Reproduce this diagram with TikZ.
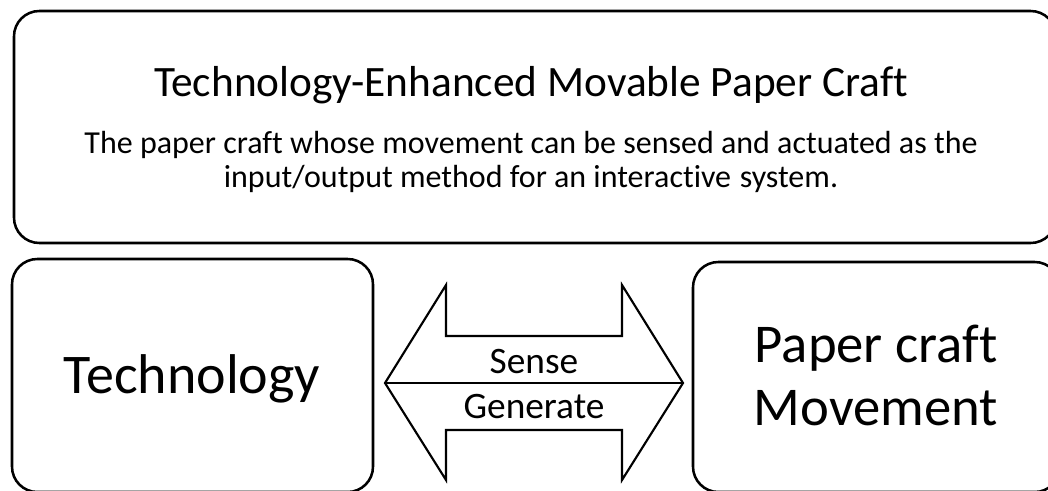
\documentclass[tikz,border=0pt]{standalone}
\usepackage{fontspec}
\setmainfont{Carlito}[Ligatures=NoCommon]
\begin{document}
\begin{tikzpicture}[x=0.75pt,y=-0.75pt,
  box/.style={draw=black,line width=1.9pt,rounded corners=19pt,fill=white,inner sep=0pt},
  arrowshape/.style={draw=black,line width=1.6pt,line join=miter,fill=white},
  txt/.style={inner sep=0pt,anchor=base,text=black}]
\useasboundingbox (0,0) rectangle (1048,490);
\clip (0,0) rectangle (1048,490);

% framing boxes
\node[box,minimum width=781.5pt,minimum height=174pt] (top) at (535,127) {};
\node[box,minimum width=270.75pt,minimum height=174.75pt] (tech) at (192.5,375.5) {};
\node[box,minimum width=275.25pt,minimum height=172.5pt] (craft) at (876.5,377) {};

% heading and description
\node[txt,font=\fontsize{32.5}{38}\selectfont] (title) at (531,96) {Technology-Enhanced Movable Paper Craft};
\node[txt,font=\fontsize{24}{29}\selectfont] (desc1) at (531,153) {The paper craft whose movement can be sensed and actuated as the};
\node[txt,font=\fontsize{24}{29}\selectfont] (desc2) at (531,187) {input/output method for an interactive\hspace{0.27em}system.};

% the two sides
\node[txt,font=\fontsize{42}{48}\selectfont] (techlabel) at (192,393) {Technology};
\node[txt,font=\fontsize{41}{48}\selectfont] (craft1) at (876,362) {Paper craft};
\node[txt,font=\fontsize{41}{48}\selectfont] (craft2) at (876,425) {Movement};

% double block arrow between them
\coordinate (ltip) at (385,383);
\coordinate (rtip) at (683,383);
\draw[arrowshape] (ltip) -- (446,285) -- (446,336) -- (622,336) -- (622,285) -- (rtip)
  -- (622,480) -- (622,430) -- (446,430) -- (446,480) -- cycle;
\draw[line width=1.9pt] (ltip) -- (rtip);
\node[txt,font=\fontsize{28}{34}\selectfont] (sense) at (534,373) {Sense};
\node[txt,font=\fontsize{28}{34}\selectfont] (generate) at (534,418) {Generate};
\end{tikzpicture}
\end{document}
